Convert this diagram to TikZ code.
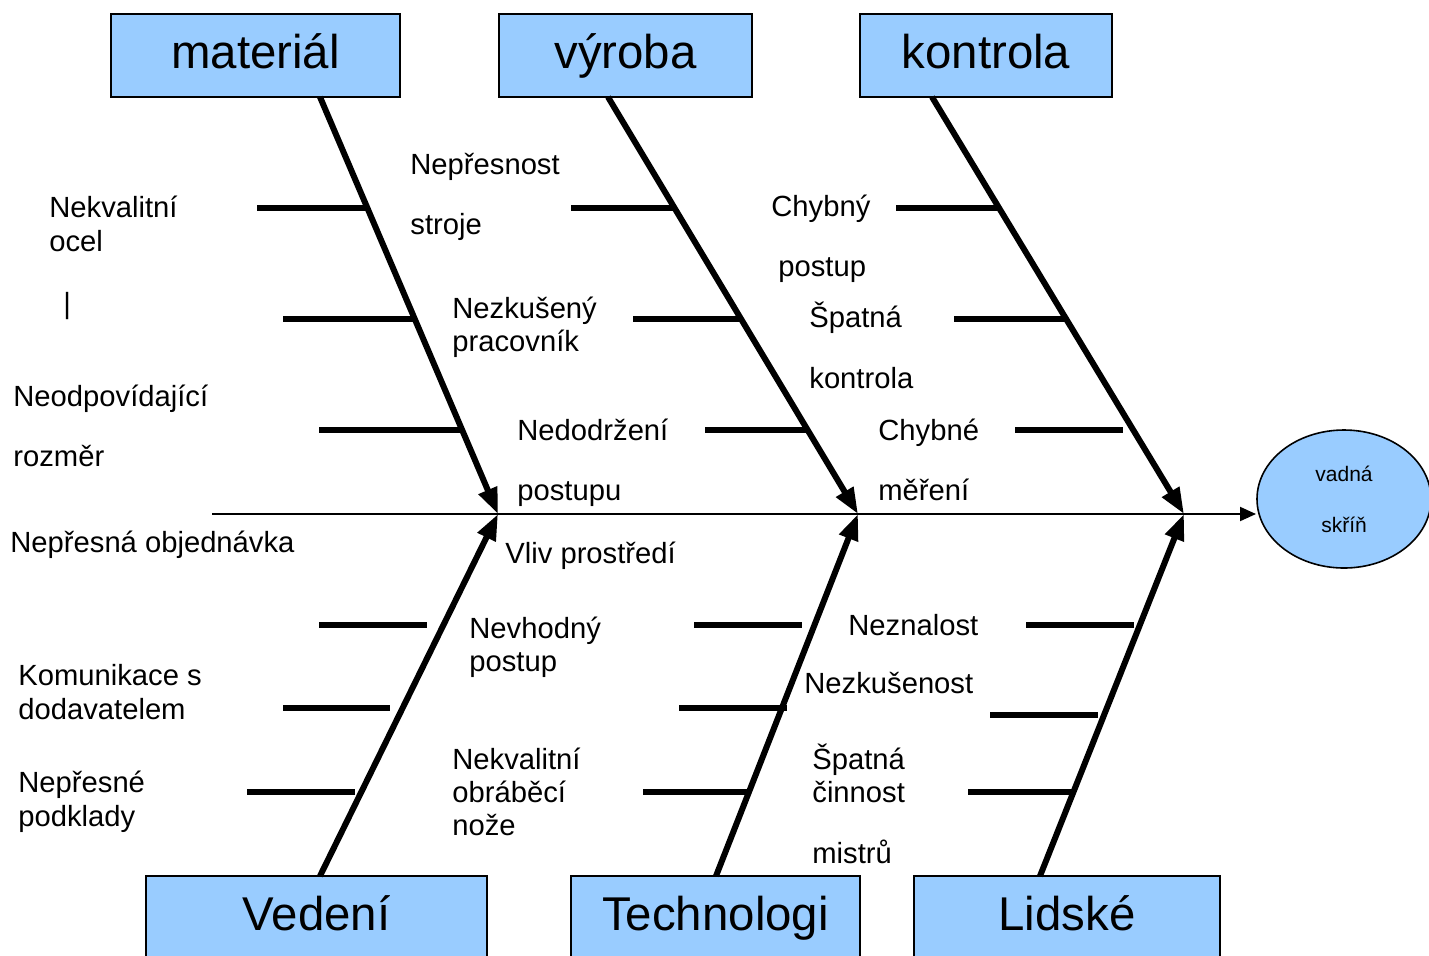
\documentclass[tikz,border=0pt]{standalone}
\usepackage{fontspec}
\setmainfont{Liberation Sans}
\usetikzlibrary{arrows.meta,shapes.geometric}
\definecolor{boxblue}{HTML}{99CCFF}
\tikzset{
  cat/.style={draw=black, fill=boxblue, line width=0.8pt, inner sep=0pt,
    minimum height=41.5pt, text height=17pt, text depth=4pt,
    font=\fontsize{23.7}{28}\selectfont},
  lab/.style={anchor=base west, inner sep=0pt, font=\fontsize{14.6}{17}\selectfont},
  bone/.style={line width=3pt, -{Triangle[length=13pt,width=9.5pt]}},
  sub/.style={line width=2.6pt},
  spine/.style={line width=1pt, -{Triangle[length=8pt,width=7pt]}}
}
\begin{document}
\begin{tikzpicture}[x=0.5pt,y=-0.5pt]
\useasboundingbox (0,0) rectangle (1429,955);
% category boxes
\node[cat, minimum width=144.5pt] (mat) at (255.5,55.5) {materiál};
\node[cat, minimum width=126.5pt] (vyr) at (625.5,55.5) {výroba};
\node[cat, minimum width=126pt] (kon) at (986,55.5) {kontrola};
\node[cat, minimum width=170.5pt] (ved) at (316.5,917.5) {Vedení};
\node[cat, minimum width=144.5pt] (tec) at (715.5,917.5) {Technologi};
\node[cat, minimum width=153pt] (lid) at (1067,917.5) {Lidské};
% effect
\node[ellipse, draw=black, fill=boxblue, line width=0.8pt, minimum width=87pt, minimum height=69pt,
  inner sep=0pt, align=center, font=\fontsize{10.5}{25.5}\selectfont] (eff) at (1344,499) {vadná\\skříň};
% spine
\coordinate (tail) at (212,514);
\coordinate (j1) at (498,514);
\coordinate (j2) at (858,514);
\coordinate (j3) at (1184,514);
\coordinate (head) at (1256,514);
\draw[spine] (tail) -- (head);
% bone start points
\coordinate (m0) at (320,97);
\coordinate (v0) at (608,97);
\coordinate (k0) at (932,97);
\coordinate (d0) at (320,876);
\coordinate (t0) at (716,876);
\coordinate (l0) at (1040,876);
\draw[bone] (m0) -- (j1);
\draw[bone] (v0) -- (j2);
\draw[bone] (k0) -- (j3);
\draw[bone] (d0) -- (j1);
\draw[bone] (t0) -- (j2);
\draw[bone] (l0) -- (j3);
% sub-bones upper
\draw[sub] (257,208) -- (367,208);
\draw[sub] (283,319) -- (413,319);
\draw[sub] (319,430) -- (462,430);
\draw[sub] (571,208) -- (675,208);
\draw[sub] (633,319) -- (741,319);
\draw[sub] (705,430) -- (808,430);
\draw[sub] (896,208) -- (999,208);
\draw[sub] (954,319) -- (1066,319);
\draw[sub] (1015,430) -- (1123,430);
% sub-bones lower
\draw[sub] (319,625) -- (427,625);
\draw[sub] (283,708) -- (390,708);
\draw[sub] (247,792) -- (355,792);
\draw[sub] (694,625) -- (802,625);
\draw[sub] (679,708) -- (787,708);
\draw[sub] (643,792) -- (750,792);
\draw[sub] (1026,625) -- (1134,625);
\draw[sub] (990,715) -- (1098,715);
\draw[sub] (968,792) -- (1075,792);
% labels upper
\node[lab] (a1) at (49,217) {Nekvalitní};
\node[lab] (a2) at (49,251) {ocel};
\node[lab] (a3) at (63,313) {|};
\node[lab] (a4) at (13,406) {Neodpovídající};
\node[lab] (a5) at (13,466) {rozměr};
\node[lab] (a6) at (10,552) {Nepřesná objednávka};
\node[lab] (b1) at (410,174) {Nepřesnost};
\node[lab] (b2) at (410,234) {stroje};
\node[lab] (b3) at (452,318) {Nezkušený};
\node[lab] (b4) at (452,351) {pracovník};
\node[lab] (b5) at (517,440) {Nedodržení};
\node[lab] (b6) at (517,500) {postupu};
\node[lab] (c1) at (771,216) {Chybný};
\node[lab] (c2) at (778,276) {postup};
\node[lab] (c3) at (809,327) {Špatná};
\node[lab] (c4) at (809,388) {kontrola};
\node[lab] (c5) at (878,440) {Chybné};
\node[lab] (c6) at (878,500) {měření};
% labels lower
\node[lab] (e1) at (505,563) {Vliv prostředí};
\node[lab] (e2) at (18,685) {Komunikace s};
\node[lab] (e3) at (18,719) {dodavatelem};
\node[lab] (e4) at (18,792) {Nepřesné};
\node[lab] (e5) at (18,826) {podklady};
\node[lab] (f1) at (469,638) {Nevhodný};
\node[lab] (f2) at (469,671) {postup};
\node[lab] (f3) at (452,769) {Nekvalitní};
\node[lab] (f4) at (452,802) {obráběcí};
\node[lab] (f5) at (452,835) {nože};
\node[lab] (g1) at (848,635) {Neznalost};
\node[lab] (g2) at (804,693) {Nezkušenost};
\node[lab] (g3) at (812,769) {Špatná};
\node[lab] (g4) at (812,802) {činnost};
\node[lab] (g5) at (812,863) {mistrů};
\end{tikzpicture}
\end{document}
